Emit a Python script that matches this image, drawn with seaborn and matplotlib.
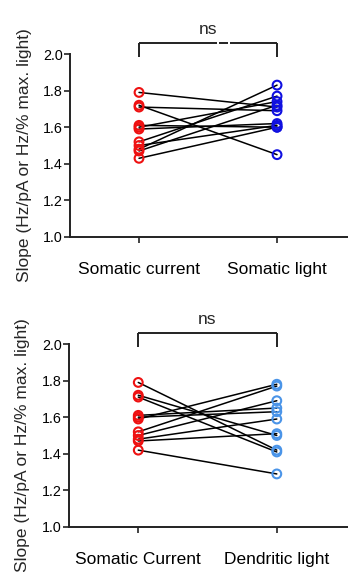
import numpy as np
import pandas as pd
import matplotlib
matplotlib.use("Agg")
import matplotlib.pyplot as plt
import seaborn as sns

sns.set_theme(style="ticks")
plt.rcParams["font.family"] = ["Liberation Sans", "DejaVu Sans"]

# Paired slopes per cell (top: somatic current vs somatic light)
top_conditions = ["Somatic current", "Somatic light"]
top_current = [1.79, 1.72, 1.71, 1.61, 1.60, 1.59, 1.52, 1.50, 1.48, 1.47, 1.43]
top_light = [1.71, 1.45, 1.69, 1.60, 1.74, 1.62, 1.77, 1.61, 1.83, 1.72, 1.60]

# Paired slopes per cell (bottom: somatic current vs dendritic light)
bot_conditions = ["Somatic Current", "Dendritic light"]
bot_current = [1.79, 1.72, 1.71, 1.61, 1.60, 1.59, 1.52, 1.50, 1.48, 1.47, 1.42]
bot_light = [1.42, 1.50, 1.41, 1.65, 1.63, 1.78, 1.77, 1.69, 1.59, 1.51, 1.29]

y_ticks = [1.0, 1.2, 1.4, 1.6, 1.8, 2.0]
y_label = "Slope (Hz/pA or Hz/% max. light)"
sig_label = "ns"

top_colors = ["#ee1111", "#1010e0"]
bot_colors = ["#ee1111", "#4a94e8"]


def long_table(conditions, a, b):
    n = len(a)
    return pd.DataFrame({
        "cell": list(range(n)) * 2,
        "condition": [conditions[0]] * n + [conditions[1]] * n,
        "pos": [0] * n + [1] * n,
        "slope": list(a) + list(b),
    })


def draw_panel(ax, conditions, a, b, colors, bracket_gap):
    df = long_table(conditions, a, b)
    sns.lineplot(data=df, x="pos", y="slope", units="cell", estimator=None,
                 color="black", lw=1.1, ax=ax, legend=False, zorder=2)
    sns.scatterplot(data=df, x="pos", y="slope", hue="condition",
                    palette=dict(zip(conditions, colors)), ax=ax,
                    legend=False, s=40, facecolor="none", linewidth=1.5,
                    zorder=3)
    # open circle markers: edge in hue colour
    for coll in ax.collections:
        fc = coll.get_facecolors()
        coll.set_edgecolors(fc)
        coll.set_facecolors("none")

    ax.set_xlim(-0.5, 1.514)
    ax.set_ylim(1.0, 2.0)
    ax.set_yticks(y_ticks)
    ax.set_yticklabels([f"{t:.1f}" for t in y_ticks])
    ax.set_xticks([0, 1])
    ax.set_xticklabels(conditions)
    ax.set_xlabel("")
    ax.set_ylabel(y_label, fontsize=12.5)
    ax.yaxis.set_label_coords(-0.138, 0.45)
    sns.despine(ax=ax)
    for sp in ("left", "bottom"):
        ax.spines[sp].set_linewidth(1.4)
        ax.spines[sp].set_color("#222222")
    ax.tick_params(axis="y", length=4, width=1.2, pad=1, labelsize=10.3,
                   colors="#222222")
    ax.tick_params(axis="x", length=4, width=1.2, pad=14, labelsize=12.5,
                   colors="#222222")
    ax.tick_params(axis="both", labelcolor="black")

    # significance bracket
    top_y, end_y = 2.06, 1.984
    kw = dict(color="#222222", lw=1.4, clip_on=False, solid_capstyle="butt")
    if bracket_gap:
        segs = [(0, 0.562), (0.578, 0.643), (0.659, 1)]
    else:
        segs = [(0, 1)]
    for x0, x1 in segs:
        ax.plot([x0, x1], [top_y, top_y], **kw)
    ax.plot([0, 0], [end_y, top_y], **kw)
    ax.plot([1, 1], [end_y, top_y], **kw)
    ax.text(0.5, 2.133, sig_label, ha="center", va="center", fontsize=12.5,
            clip_on=False)


fig = plt.figure(figsize=(3.48, 5.72), dpi=100)
ax1 = fig.add_axes([70 / 348, 1 - 237 / 572, 278 / 348, 183 / 572])
ax2 = fig.add_axes([69 / 348, 1 - 527 / 572, 279 / 348, 183 / 572])

draw_panel(ax1, top_conditions, top_current, top_light, top_colors, True)
draw_panel(ax2, bot_conditions, bot_current, bot_light, bot_colors, False)

fig.savefig("out.png", dpi=100, facecolor="white")
